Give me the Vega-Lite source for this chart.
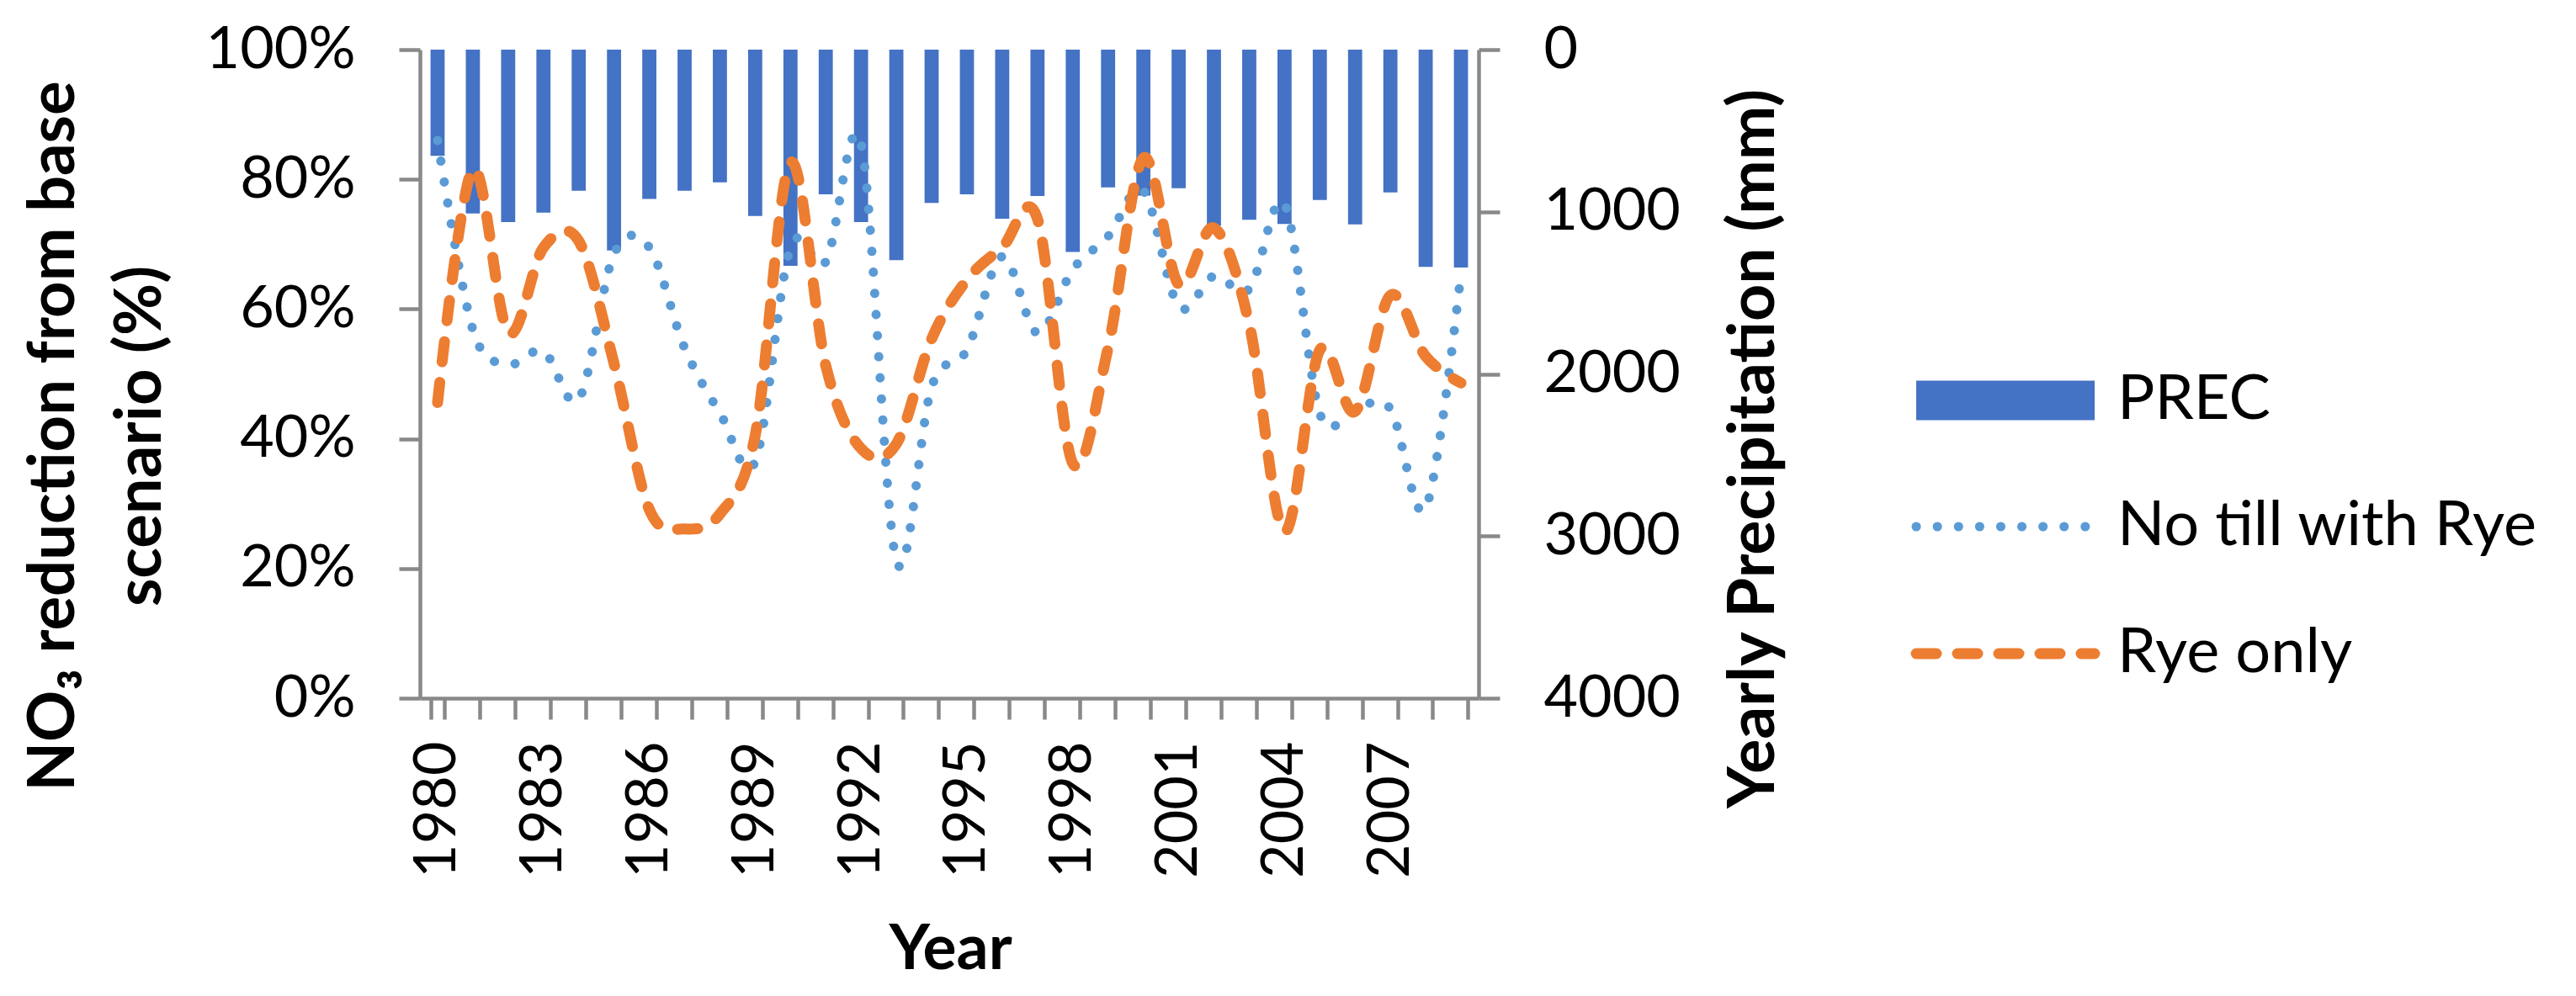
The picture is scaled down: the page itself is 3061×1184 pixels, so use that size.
{
  "$schema": "https://vega.github.io/schema/vega-lite/v6.json",
  "width": 1258,
  "height": 771,
  "autosize": {"type": "none"},
  "padding": {"left": 499, "top": 59, "right": 1304, "bottom": 354},
  "background": "white",
  "config": {
    "view": {"stroke": null},
    "font": "Lato",
    "axis": {
      "labelFont": "Lato",
      "labelFontSize": 70,
      "labelColor": "#000000",
      "titleFont": "Lato",
      "titleFontWeight": "bold",
      "titleColor": "#000000",
      "domainColor": "#898989",
      "tickColor": "#898989",
      "domainWidth": 4.5,
      "tickWidth": 4.5,
      "tickSize": 25,
      "grid": false
    },
    "legend": {
      "padding": 0,
      "labelFont": "Lato",
      "labelFontSize": 74,
      "labelColor": "#000000",
      "labelLimit": 1000
    }
  },
  "data": {
    "values": [
      {"year": 1980, "prec": 655, "notill": 0.86, "rye": 0.456},
      {"year": 1981, "prec": 1010, "notill": 0.568, "rye": 0.816},
      {"year": 1982, "prec": 1064, "notill": 0.515, "rye": 0.564},
      {"year": 1983, "prec": 1005, "notill": 0.535, "rye": 0.695},
      {"year": 1984, "prec": 870, "notill": 0.461, "rye": 0.705},
      {"year": 1985, "prec": 1239, "notill": 0.685, "rye": 0.516},
      {"year": 1986, "prec": 921, "notill": 0.695, "rye": 0.291},
      {"year": 1987, "prec": 870, "notill": 0.54, "rye": 0.261},
      {"year": 1988, "prec": 819, "notill": 0.44, "rye": 0.284},
      {"year": 1989, "prec": 1026, "notill": 0.365, "rye": 0.405},
      {"year": 1990, "prec": 1333, "notill": 0.695, "rye": 0.826},
      {"year": 1991, "prec": 892, "notill": 0.673, "rye": 0.513},
      {"year": 1992, "prec": 1064, "notill": 0.855, "rye": 0.385},
      {"year": 1993, "prec": 1298, "notill": 0.212, "rye": 0.392},
      {"year": 1994, "prec": 945, "notill": 0.48, "rye": 0.554},
      {"year": 1995, "prec": 892, "notill": 0.537, "rye": 0.645},
      {"year": 1996, "prec": 1043, "notill": 0.681, "rye": 0.695},
      {"year": 1997, "prec": 903, "notill": 0.563, "rye": 0.739},
      {"year": 1998, "prec": 1248, "notill": 0.661, "rye": 0.362},
      {"year": 1999, "prec": 849, "notill": 0.712, "rye": 0.54},
      {"year": 2000, "prec": 900, "notill": 0.782, "rye": 0.833},
      {"year": 2001, "prec": 855, "notill": 0.604, "rye": 0.638},
      {"year": 2002, "prec": 1086, "notill": 0.651, "rye": 0.725},
      {"year": 2003, "prec": 1049, "notill": 0.631, "rye": 0.577},
      {"year": 2004, "prec": 1075, "notill": 0.762, "rye": 0.257},
      {"year": 2005, "prec": 927, "notill": 0.439, "rye": 0.537},
      {"year": 2006, "prec": 1078, "notill": 0.447, "rye": 0.442},
      {"year": 2007, "prec": 881, "notill": 0.446, "rye": 0.621},
      {"year": 2008, "prec": 1340, "notill": 0.293, "rye": 0.527},
      {"year": 2009, "prec": 1344, "notill": 0.655, "rye": 0.486}
    ]
  },
  "encoding": {
    "x": {
      "field": "year",
      "type": "ordinal",
      "sort": "ascending",
      "scale": {"type": "band", "paddingInner": 0.6, "paddingOuter": 0.3},
      "axis": {
        "title": "Year",
        "titleFontSize": 75,
        "titleX": 630,
        "titleY": 321,
        "titleAlign": "center",
        "titleBaseline": "alphabetic",
        "labelAngle": 270,
        "labelAlign": "right",
        "labelBaseline": "middle",
        "labelPadding": 26,
        "labelOverlap": false,
        "labelExpr": "datum.value % 3 === 0 ? datum.label : ''",
        "tickBand": "extent"
      }
    }
  },
  "layer": [
    {
      "mark": {"type": "bar"},
      "encoding": {
        "y": {
          "field": "prec",
          "type": "quantitative",
          "scale": {"domain": [0, 4000], "reverse": true, "nice": false},
          "axis": {
            "orient": "right",
            "values": [0, 1000, 2000, 3000, 4000],
            "format": "d",
            "labelPadding": 52,
            "labelAlign": "left",
            "labelBaseline": "middle",
            "title": "Yearly Precipitation (mm)",
            "titleFontSize": 77,
            "titleAngle": 270,
            "titleAlign": "center",
            "titleBaseline": "alphabetic",
            "titleX": 350,
            "titleY": 474
          }
        },
        "color": {
          "datum": "PREC",
          "type": "nominal",
          "scale": {"domain": ["PREC"], "range": ["#4472C4"]},
          "legend": {
            "title": null,
            "orient": "none",
            "legendX": 1778,
            "legendY": 380,
            "symbolType": "M-4,-0.887H4V0.887H-4Z",
            "symbolSize": 2809,
            "symbolOffset": 69,
            "symbolStrokeWidth": 0,
            "labelOffset": 96
          }
        }
      }
    },
    {
      "transform": [{"fold": ["notill", "rye"], "as": ["series", "value"]}],
      "mark": {"type": "line", "interpolate": "cardinal", "strokeCap": "round"},
      "encoding": {
        "y": {
          "field": "value",
          "type": "quantitative",
          "scale": {"domain": [0, 1], "nice": false},
          "axis": {
            "orient": "left",
            "values": [0, 0.2, 0.4, 0.6, 0.8, 1],
            "format": ".0%",
            "labelPadding": 52,
            "title": ["NO₃ reduction from base", "scenario (%)"],
            "titleFontSize": 76,
            "titleAngle": 270,
            "titleAlign": "center",
            "titleBaseline": "alphabetic",
            "titleLineHeight": 103,
            "titleX": -412,
            "titleY": 459
          }
        },
        "color": {
          "field": "series",
          "type": "nominal",
          "scale": {"domain": ["notill", "rye"], "range": ["#5B9BD5", "#ED7D31"]},
          "legend": {
            "title": null,
            "orient": "none",
            "legendX": 1778,
            "legendY": 530,
            "symbolType": "M-4,0H4",
            "symbolSize": 2809,
            "symbolOffset": 69,
            "symbolStrokeWidth": 12,
            "labelOffset": 96,
            "rowPadding": 77,
            "labelExpr": "datum.value === 'notill' ? 'No till with Rye' : 'Rye only'",
            "encode": {
              "symbols": {
                "update": {
                  "strokeCap": {"value": "round"},
                  "strokeWidth": {"signal": "datum.value === 'rye' ? 14 : 11"}
                }
              }
            }
          }
        },
        "strokeDash": {
          "field": "series",
          "type": "nominal",
          "scale": {"domain": ["notill", "rye"], "range": [[0.1, 25], [24, 25]]}
        },
        "strokeWidth": {
          "field": "series",
          "type": "nominal",
          "scale": {"domain": ["notill", "rye"], "range": [11, 13]},
          "legend": null
        }
      }
    }
  ],
  "resolve": {"scale": {"y": "independent", "color": "independent", "strokeDash": "independent", "strokeWidth": "independent"}}
}
